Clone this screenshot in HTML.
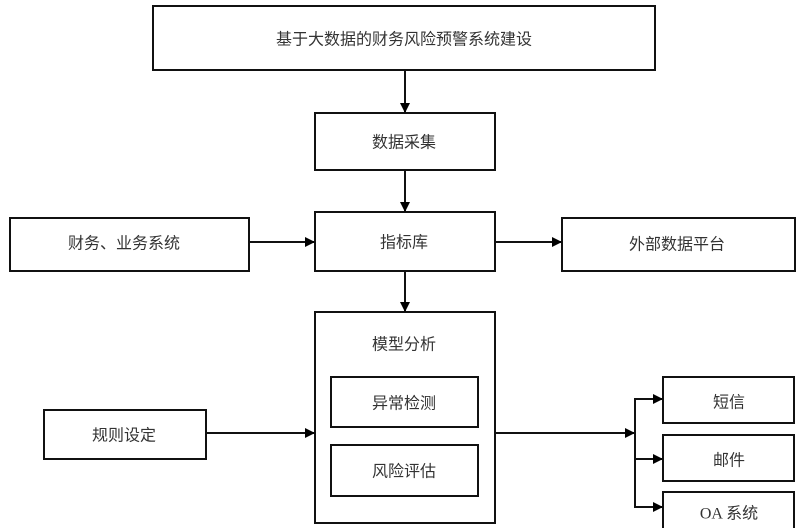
<!DOCTYPE html>
<html><head><meta charset="utf-8"><style>
html,body{margin:0;padding:0;background:#fff;}
svg{display:block;}
text{font-family:"Liberation Serif","Noto Sans CJK SC",sans-serif;font-size:16px;fill:#333;text-anchor:middle;dominant-baseline:central;}
</style></head><body>
<svg width="798" height="528" viewBox="0 0 798 528" xmlns="http://www.w3.org/2000/svg">
<defs><marker id="a" markerWidth="10" markerHeight="10" refX="9" refY="5" orient="auto" markerUnits="userSpaceOnUse"><path d="M0,0 L10,5 L0,10 z" fill="#000"/></marker></defs>
<g fill="none" stroke="#111" stroke-width="2">
<rect x="153" y="6" width="502" height="64"/>
<rect x="315" y="113" width="180" height="57"/>
<rect x="315" y="212" width="180" height="59"/>
<rect x="10" y="218" width="239" height="53"/>
<rect x="562" y="218" width="233" height="53"/>
<rect x="315" y="312" width="180" height="211"/>
<rect x="331" y="377" width="147" height="50"/>
<rect x="331" y="445" width="147" height="51"/>
<rect x="44" y="410" width="162" height="49"/>
<rect x="663" y="377" width="131" height="46"/>
<rect x="663" y="435" width="131" height="46"/>
<rect x="663" y="492" width="131" height="40"/>
<line x1="405" y1="70" x2="405" y2="112" marker-end="url(#a)"/>
<line x1="405" y1="170" x2="405" y2="211" marker-end="url(#a)"/>
<line x1="405" y1="271" x2="405" y2="311" marker-end="url(#a)"/>
<line x1="249" y1="242" x2="314" y2="242" marker-end="url(#a)"/>
<line x1="495" y1="242" x2="561" y2="242" marker-end="url(#a)"/>
<line x1="206" y1="433" x2="314" y2="433" marker-end="url(#a)"/>
<line x1="495" y1="433" x2="634" y2="433" marker-end="url(#a)"/>
<line x1="635" y1="398" x2="635" y2="508"/>
<line x1="635" y1="399" x2="662" y2="399" marker-end="url(#a)"/>
<line x1="635" y1="459" x2="662" y2="459" marker-end="url(#a)"/>
<line x1="635" y1="507" x2="662" y2="507" marker-end="url(#a)"/>
</g>
<text x="404" y="40">基于大数据的财务风险预警系统建设</text>
<text x="404" y="143">数据采集</text>
<text x="404" y="243">指标库</text>
<text x="124" y="244">财务、业务系统</text>
<text x="677" y="245">外部数据平台</text>
<text x="404" y="345">模型分析</text>
<text x="404" y="404">异常检测</text>
<text x="404" y="472">风险评估</text>
<text x="124" y="436">规则设定</text>
<text x="729" y="403">短信</text>
<text x="729" y="461">邮件</text>
<text x="729" y="514">OA 系统</text>
</svg>
</body></html>
